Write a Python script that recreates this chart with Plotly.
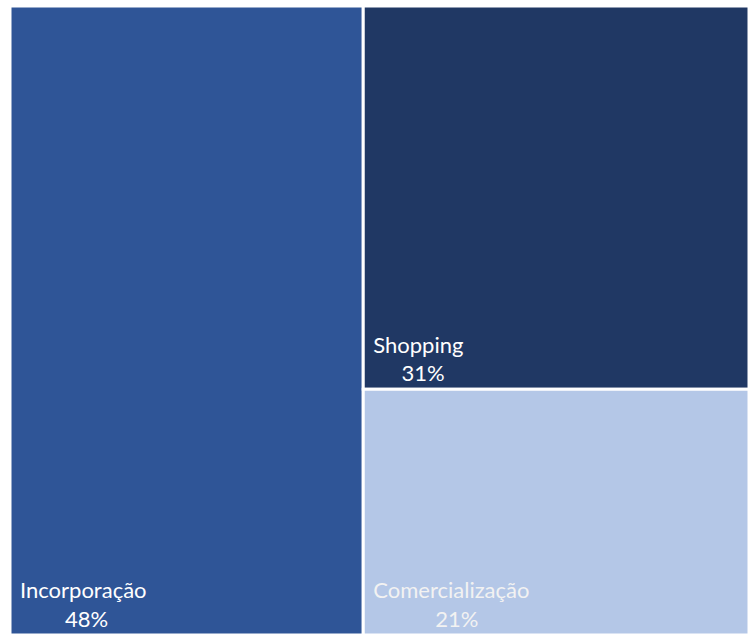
import plotly.graph_objects as go

labels = ["Incorporação", "Shopping", "Comercialização"]
values = [47.8, 31.8, 20.4]
pct_labels = ["48%", "31%", "21%"]
colors = ["#2F5597", "#203864", "#B4C7E7"]
text_colors = ["#FFFFFF", "#FFFFFF", "#F2F2F2"]

NB = "&nbsp;"
LEAD = "&nbsp;&#8202;"

def make_text(lbl, pct):
    pad = round((len(lbl) - len(pct)) / 2 * 1.85)
    return LEAD + lbl + "<br>" + LEAD + NB * pad + pct

texts = [make_text(l, p) for l, p in zip(labels, pct_labels)]

fig = go.Figure(go.Treemap(
    labels=labels,
    parents=[""] * len(labels),
    values=values,
    text=texts,
    texttemplate="%{text}",
    textposition="bottom left",
    marker=dict(colors=colors, line=dict(color="white", width=3), pad=dict(t=0, l=0, r=0, b=0)),
    textfont=dict(family="Lato, Carlito, Calibri, sans-serif", size=22, color=text_colors),
    sort=False,
    tiling=dict(packing="squarify", pad=0),
    pathbar=dict(visible=False),
    hoverinfo="label",
))

fig.update_layout(
    width=756, height=635,
    margin=dict(l=10, r=7, t=6, b=0),
    paper_bgcolor="white",
)

fig.write_html("out.html")
